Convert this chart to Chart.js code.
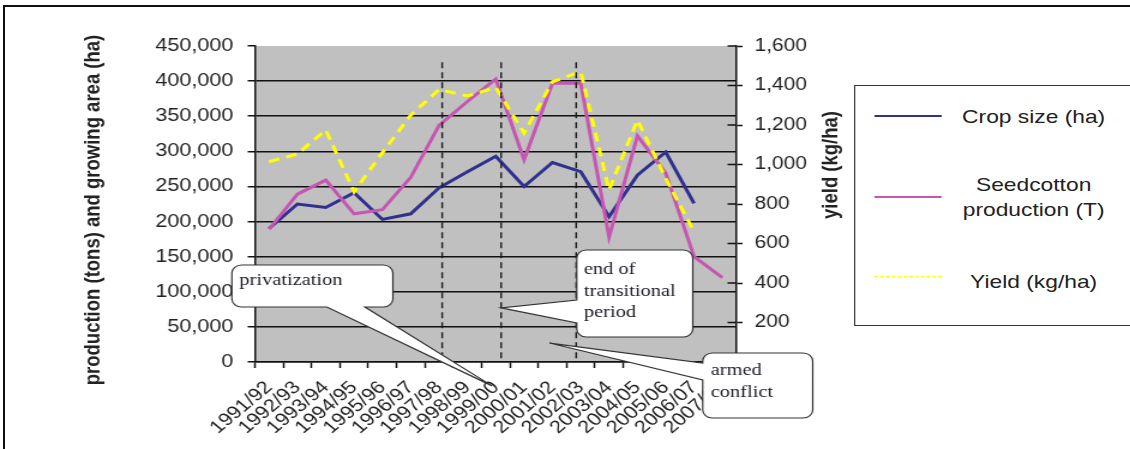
<!DOCTYPE html>
<html>
<head>
<meta charset="utf-8">
<title>Seedcotton production, growing area and yield</title>
<script src="https://cdn.jsdelivr.net/npm/chart.js@4.4.1/dist/chart.umd.min.js"></script>
<style>
  html, body { margin: 0; padding: 0; background: #fff; }
  #frame { position: relative; width: 1130px; height: 449px; overflow: hidden; background: #fff; }
  /* the chart is laid out on a narrower stage and widened horizontally */
  #stage { position: absolute; left: 0; top: 0; width: 942px; height: 449px;
           transform-origin: 0 0; transform: scaleX(1.19958); }
  #chartBox { position: absolute; left: 0; top: 0; width: 942px; height: 449px; }
  #legend { position: absolute; left: 711.7px; top: 85px; width: 320px; height: 239px;
            border: 1px solid #333; background: #fff; color: #222;
            font-family: "Liberation Sans", Arial, sans-serif; font-size: 19px; }
  #legend .sample { position: absolute; left: 16px; width: 56px; height: 0; }
  #legend .text { position: absolute; left: 79px; width: 140px; text-align: center;
                  line-height: 25px; transform: translateY(-50%); }
  #border { position: absolute; left: 3px; top: 5px; width: 1150px; height: 470px;
            border-top: 2px solid #111; border-left: 2px solid #111; pointer-events: none; }
</style>
</head>
<body>
<div id="frame">
  <div id="stage">
    <div id="chartBox"><canvas id="chart"></canvas></div>
    <div id="legend"></div>
  </div>
  <div id="border"></div>
</div>
<script>
// Marketing seasons
const seasons = ['1991/92', '1992/93', '1993/94', '1994/95', '1995/96', '1996/97',
                 '1997/98', '1998/99', '1999/00', '2000/01', '2001/02', '2002/03',
                 '2003/04', '2004/05', '2005/06', '2006/07', '2007/08'];

// Growing area (ha)
const cropSize = [190000, 225000, 220000, 241000, 203000, 211000, 248000, 271000, 293000,
                  250000, 284000, 271000, 207000, 266000, 299000, 226000, null];

// Seedcotton production (tons)
const production = [189000, 239000, 259000, 211000, 217000, 263000, 337000, 371000, 403000,
                    288000, 397000, 397000, 178000, 322000, 269000, 150000, 120000];

// Yield (kg/ha)
const yieldKg = [1014, 1053, 1175, 862, 1060, 1250, 1380, 1347, 1390,
                 1159, 1419, 1470, 871, 1225, 930, 660, null];

// Axis ranges
const areaAxis = { min: 0, max: 450000, step: 50000 };
const yieldAxis = { min: 0, max: 1600, step: 200 };

const axisTitles = {
  left: 'production (tons) and growing area (ha)',
  right: 'yield (kg/ha)'
};

// Policy events marked with vertical dashed lines
const events = [
  { season: '1997/98', shift: 0.11 },
  { season: '1999/00', shift: 0.19 },
  { season: '2002/03', shift: -0.16 }
];

// Speech-bubble notes: box in pixels, pointer tip in data units
const notes = [
  { lines: ['privatization'], box: [193.3, 265, 134.2, 42], side: 'bottom', base: [272.5, 304.2],
    tip: { x: 7.87, y: -34000 }, text: [199.5, 281] },
  { lines: ['end of', 'transitional', 'period'], box: [480.8, 250, 96.7, 87], side: 'left', base: [300, 323],
    tip: { x: 8.19, y: 77000 }, text: [486.8, 270] },
  { lines: ['armed', 'conflict'], box: [585.8, 353, 91.7, 65], side: 'left', base: [363, 380],
    tip: { x: 9.9, y: 27000 }, text: [592.5, 371] }
];

const SANS = '"Liberation Sans", Arial, sans-serif';
const SERIF = '"Liberation Serif", "Times New Roman", serif';
const INK = '#222';

const plotBackground = {
  id: 'plotBackground',
  beforeDraw(chart) {
    const { ctx, chartArea: a } = chart;
    ctx.save();
    ctx.fillStyle = '#c0c0c0';
    ctx.fillRect(a.left, a.top, a.right - a.left, a.bottom - a.top);
    ctx.restore();
  }
};

const eventLines = {
  id: 'eventLines',
  afterDatasetsDraw(chart) {
    const { ctx, scales: { x, y }, chartArea: a } = chart;
    ctx.save();
    ctx.strokeStyle = '#1a1a1a';
    ctx.lineWidth = 1.4;
    ctx.setLineDash([6, 4]);
    events.forEach(ev => {
      const px = x.getPixelForValue(seasons.indexOf(ev.season) + ev.shift);
      ctx.beginPath();
      ctx.moveTo(px, y.getPixelForValue(427000));
      ctx.lineTo(px, a.bottom);
      ctx.stroke();
    });
    ctx.restore();
  }
};

function bubblePath(ctx, n, tx, ty) {
  const [x, y, w, h] = n.box;
  const r = 8;
  const [p, q] = n.base;
  ctx.beginPath();
  ctx.moveTo(x + r, y);
  ctx.lineTo(x + w - r, y);
  ctx.arcTo(x + w, y, x + w, y + r, r);
  ctx.lineTo(x + w, y + h - r);
  ctx.arcTo(x + w, y + h, x + w - r, y + h, r);
  if (n.side === 'bottom') {
    ctx.lineTo(q, y + h);
    ctx.lineTo(tx, ty);
    ctx.lineTo(p, y + h);
  }
  ctx.lineTo(x + r, y + h);
  ctx.arcTo(x, y + h, x, y + h - r, r);
  if (n.side === 'left') {
    ctx.lineTo(x, q);
    ctx.lineTo(tx, ty);
    ctx.lineTo(x, p);
  }
  ctx.lineTo(x, y + r);
  ctx.arcTo(x, y, x + r, y, r);
  ctx.closePath();
}

const decorations = {
  id: 'decorations',
  afterDraw(chart) {
    const { ctx, scales: { x, y, y1 }, chartArea: a } = chart;
    ctx.save();

    // tick marks reaching into the plot on the yield axis
    ctx.strokeStyle = '#111';
    ctx.lineWidth = 1.5;
    y1.ticks.forEach(t => {
      if (t.value === 0) return;
      const py = y1.getPixelForValue(t.value);
      ctx.beginPath();
      ctx.moveTo(a.right - 7.5, py);
      ctx.lineTo(a.right, py);
      ctx.stroke();
    });

    // axis titles
    ctx.fillStyle = INK;
    ctx.font = 'bold 18.5px ' + SANS;
    ctx.textAlign = 'center';
    ctx.textBaseline = 'middle';
    ctx.save();
    ctx.translate(77.5, 210);
    ctx.rotate(-Math.PI / 2);
    ctx.fillText(axisTitles.left, 0, 0);
    ctx.restore();
    ctx.save();
    ctx.translate(693.3, 165);
    ctx.rotate(-Math.PI / 2);
    ctx.fillText(axisTitles.right, 0, 0);
    ctx.restore();

    // notes
    notes.forEach(n => {
      const tx = x.getPixelForValue(n.tip.x);
      const ty = y.getPixelForValue(n.tip.y);
      bubblePath(ctx, n, tx, ty);
      ctx.fillStyle = '#fff';
      ctx.fill();
      ctx.strokeStyle = '#333';
      ctx.lineWidth = 1.2;
      ctx.stroke();
      ctx.fillStyle = '#1c1c28';
      ctx.font = '17px ' + SERIF;
      ctx.textAlign = 'left';
      ctx.textBaseline = 'middle';
      n.lines.forEach((line, i) => ctx.fillText(line, n.text[0], n.text[1] + i * 21.5));
    });
    ctx.restore();
  }
};

const chart = new Chart(document.getElementById('chart'), {
  type: 'line',
  data: {
    labels: seasons,
    datasets: [
      { label: 'Crop size (ha)', data: cropSize, yAxisID: 'y', borderColor: '#30318f',
        borderWidth: 3, pointRadius: 0, tension: 0, order: 2 },
      { label: 'Seedcotton production (T)', data: production, yAxisID: 'y', borderColor: '#c656b2',
        borderWidth: 3, pointRadius: 0, tension: 0, order: 1 },
      { label: 'Yield (kg/ha)', data: yieldKg, yAxisID: 'y1', borderColor: '#ffff00',
        borderWidth: 3, borderDash: [9, 6], pointRadius: 0, tension: 0, order: 0 }
    ]
  },
  options: {
    responsive: true,
    maintainAspectRatio: false,
    animation: false,
    devicePixelRatio: 1,
    layout: { padding: { left: 0, top: 46, right: 238, bottom: 0 } },
    plugins: { legend: { display: false }, tooltip: { enabled: false }, title: { display: false } },
    scales: {
      x: {
        type: 'category',
        offset: true,
        grid: { offset: true, drawOnChartArea: false, tickLength: 6, tickColor: '#111', tickWidth: 1.5 },
        border: { color: '#111', width: 1.5 },
        ticks: { minRotation: 45, maxRotation: 45, autoSkip: false, color: INK, padding: 9,
                 font: { family: SANS, size: 18 } },
        afterFit(s) { s.height = 87; }
      },
      y: {
        position: 'left',
        min: areaAxis.min, max: areaAxis.max,
        ticks: { stepSize: areaAxis.step, color: INK, padding: 12, font: { family: SANS, size: 18 },
                 callback: v => v.toLocaleString('en-US') },
        grid: { color: c => (c.tick && c.tick.value === areaAxis.max) ? 'rgba(0,0,0,0)' : '#111',
                lineWidth: 1.5, tickLength: 6, tickColor: '#111', tickWidth: 1.5 },
        border: { color: '#111', width: 1.5 },
        afterFit(s) { s.width = 212.5; }
      },
      y1: {
        position: 'right',
        min: yieldAxis.min, max: yieldAxis.max,
        ticks: { stepSize: yieldAxis.step, color: INK, padding: 10, font: { family: SANS, size: 17.5 },
                 callback: v => v === 0 ? '' : v.toLocaleString('en-US') },
        grid: { drawOnChartArea: false, tickLength: 5, tickColor: '#111', tickWidth: 1.5 },
        border: { color: '#111', width: 1.5 },
        afterFit(s) { s.width = 90; }
      }
    }
  },
  plugins: [plotBackground, eventLines, decorations]
});

// Legend built from the datasets
const legendRows = [
  { line: 30, text: 30 },
  { line: 111, text: 110.5 },
  { line: 191, text: 195 }
];
const legend = document.getElementById('legend');
chart.data.datasets.forEach((ds, i) => {
  const sample = document.createElement('div');
  sample.className = 'sample';
  const dashed = Array.isArray(ds.borderDash) && ds.borderDash.length > 0;
  sample.style.top = (legendRows[i].line - 1) + 'px';
  sample.style.borderTop = (dashed ? '1.5px dashed ' : '2px solid ') + ds.borderColor;
  legend.appendChild(sample);
  const text = document.createElement('div');
  text.className = 'text';
  text.style.top = legendRows[i].text + 'px';
  text.textContent = ds.label;
  legend.appendChild(text);
});
</script>
</body>
</html>
